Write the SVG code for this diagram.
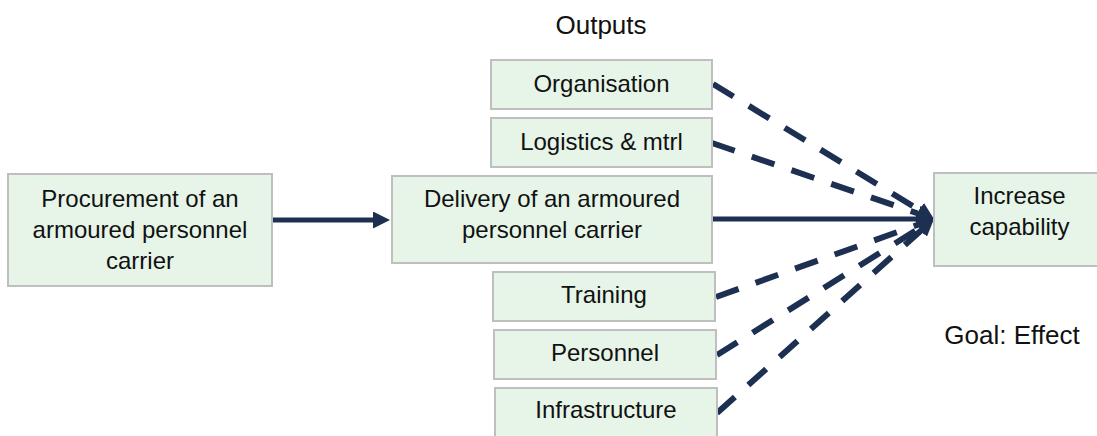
<svg xmlns="http://www.w3.org/2000/svg" width="1097" height="436" viewBox="0 0 1097 436">
  <style>
    .box { fill: #e6f5e8; stroke: #bfbfbf; stroke-width: 2; }
    .lbl { font-family: "Liberation Sans", Arial, sans-serif; font-size: 24px; fill: #111; text-anchor: middle; }
    .head { font-family: "Liberation Sans", Arial, sans-serif; font-size: 26px; fill: #111; text-anchor: middle; }
    .solid { fill: none; stroke: #1d3052; stroke-width: 5; }
    .dash { fill: none; stroke: #1d3052; stroke-width: 6; stroke-dasharray: 24 18; }
  </style>
  <defs>
    <marker id="arrow" viewBox="0 0 17 17" markerUnits="userSpaceOnUse" markerWidth="17" markerHeight="17" refX="0" refY="8.5" orient="auto">
      <path d="M0,0 L17,8.5 L0,17 Z" fill="#1d3052"/>
    </marker>
  </defs>

  <rect width="1097" height="436" fill="#ffffff"/>

  <text class="head" x="601" y="34">Outputs</text>
  <text class="head" x="1012" y="344">Goal: Effect</text>

  <g id="connectors">
    <path class="solid" d="M272,220 L373,220" marker-end="url(#arrow)"/>
    <path class="solid" d="M712,219 L917,219" marker-end="url(#arrow)"/>
    <path class="dash" d="M713,84 L919.5,210.1" marker-end="url(#arrow)"/>
    <path class="dash" d="M712,143 L917.9,213.5" marker-end="url(#arrow)"/>
    <path class="dash" d="M716,297 L918,224.7" marker-end="url(#arrow)"/>
    <path class="dash" d="M717,355 L919.6,228" marker-end="url(#arrow)"/>
    <path class="dash" d="M717,413 L921.3,230.3" marker-end="url(#arrow)"/>
  </g>

  <g id="procurement">
    <rect class="box" x="8" y="174" width="264" height="112"/>
    <text class="lbl" x="140" y="207">Procurement of an</text>
    <text class="lbl" x="140" y="238">armoured personnel</text>
    <text class="lbl" x="140" y="269">carrier</text>
  </g>

  <g id="organisation">
    <rect class="box" x="491" y="60" width="221" height="49"/>
    <text class="lbl" x="601.5" y="92">Organisation</text>
  </g>

  <g id="logistics">
    <rect class="box" x="491" y="118" width="221" height="49"/>
    <text class="lbl" x="601.5" y="150">Logistics &amp; mtrl</text>
  </g>

  <g id="delivery">
    <rect class="box" x="392" y="176" width="320" height="87"/>
    <text class="lbl" x="552" y="207">Delivery of an armoured</text>
    <text class="lbl" x="552" y="238">personnel carrier</text>
  </g>

  <g id="training">
    <rect class="box" x="493" y="272" width="222" height="49"/>
    <text class="lbl" x="604" y="303">Training</text>
  </g>

  <g id="personnel">
    <rect class="box" x="494" y="330" width="222" height="49"/>
    <text class="lbl" x="605" y="361">Personnel</text>
  </g>

  <g id="infrastructure">
    <rect class="box" x="495" y="388" width="222" height="60"/>
    <text class="lbl" x="606" y="418">Infrastructure</text>
  </g>

  <g id="capability">
    <rect class="box" x="934" y="173" width="171" height="93"/>
    <text class="lbl" x="1019.5" y="204">Increase</text>
    <text class="lbl" x="1019.5" y="235">capability</text>
  </g>
</svg>
